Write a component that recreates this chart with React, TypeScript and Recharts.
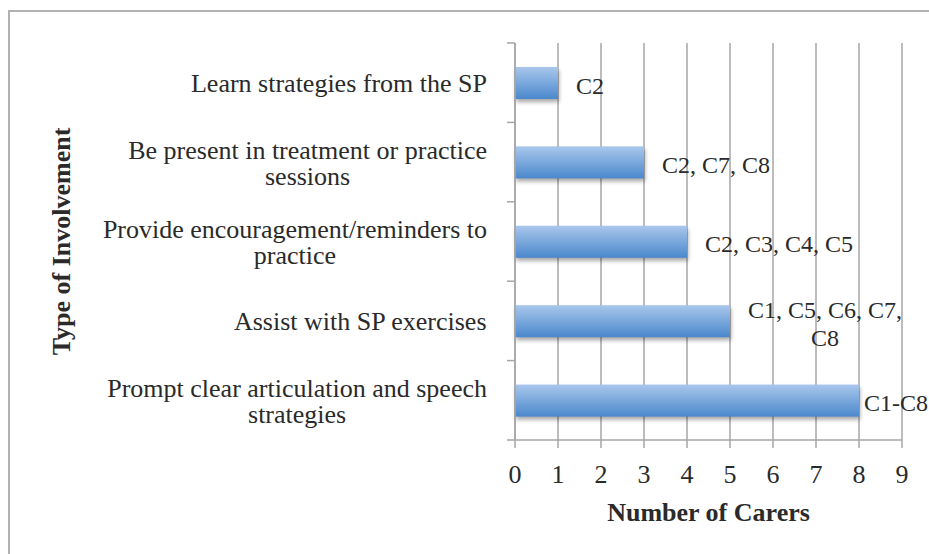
import React from 'react';
import { BarChart, Bar, XAxis, YAxis, CartesianGrid, LabelList } from 'recharts';

// ---------- data ----------
const categories = [
  'Learn strategies from the SP',
  'Be present in treatment or practice\nsessions',
  'Provide encouragement/reminders to\npractice',
  'Assist with SP exercises',
  'Prompt clear articulation and speech\nstrategies',
];
const carerCounts = [1, 3, 4, 5, 8];
const carerLabels = ['C2', 'C2, C7, C8', 'C2, C3, C4, C5', 'C1, C5, C6, C7,\nC8', 'C1-C8'];
const xTicks = [0, 1, 2, 3, 4, 5, 6, 7, 8, 9];
const xAxisTitle = 'Number of Carers';
const yAxisTitle = 'Type of Involvement';

const data = categories.map((c, i) => ({ category: c, carers: carerCounts[i], label: carerLabels[i] }));

// ---------- style ----------
const W = 929;
const H = 554;
const FONT = '"Liberation Serif", "Times New Roman", serif';
const TEXT = '#2a2a2a';
const GRID = '#a6a6a6';
const CAT_FS = 26;
const LBL_FS = 24;

let ctx: CanvasRenderingContext2D | null = null;
function measure(text: string, font: string): number {
  if (!ctx) ctx = document.createElement('canvas').getContext('2d');
  if (!ctx) return text.length * 10;
  ctx.font = font;
  return ctx.measureText(text).width;
}

const CategoryTick = (props: any) => {
  const { x, y, payload, index } = props;
  const half = payload?.offset ?? 0;
  const lines = String(payload.value).split('\n');
  const font = `${CAT_FS}px ${FONT}`;
  const blockW = Math.max(...lines.map((l) => measure(l, font)));
  const right = x - 28;
  const cx = right - blockW / 2;
  const n = lines.length;
  return (
    <g>
      <line x1={x - 8} x2={x} y1={y - half} y2={y - half} stroke={GRID} strokeWidth={1.5} />
      {index === categories.length - 1 && (
        <line x1={x - 8} x2={x} y1={y + half} y2={y + half} stroke={GRID} strokeWidth={1.5} />
      )}
      <text textAnchor="middle" fontFamily={FONT} fontSize={CAT_FS} fill={TEXT}>
        {lines.map((l, i) => (
          <tspan key={i} x={cx} y={y + 9.5 + (i - (n - 1) / 2) * 26}>
            {l}
          </tspan>
        ))}
      </text>
    </g>
  );
};

const renderCarerLabel = (p: any) => {
  const vb = p.viewBox ?? p;
  const x = p.x ?? vb.x;
  const y = p.y ?? vb.y;
  const width = p.width ?? vb.width;
  const height = p.height ?? vb.height;
  const lines = String(p.value).split('\n');
  const font = `${LBL_FS}px ${FONT}`;
  const blockW = Math.max(...lines.map((l) => measure(l, font)));
  let start = x + width + 18;
  if (start + blockW > W - 1) start = W - 1 - blockW;
  const cx = start + blockW / 2;
  const cy = y + height / 2;
  const n = lines.length;
  return (
    <text textAnchor="middle" fontFamily={FONT} fontSize={LBL_FS} fill={TEXT}>
      {lines.map((l, i) => (
        <tspan key={i} x={cx} y={cy + 10.5 + (i - (n - 1) / 2) * 28}>
          {l}
        </tspan>
      ))}
    </text>
  );
};

const BarShape = (p: any) => {
  const { x, y, width, height } = p;
  if (!width || width <= 0) return null;
  return (
    <g>
      <rect x={x} y={y} width={width} height={height} fill="#000" opacity={0.35} filter="url(#barShadow)" />
      <rect x={x} y={y} width={width} height={height} fill="url(#barGrad)" />
    </g>
  );
};

const YTitle = (p: any) => {
  const vb = p.viewBox;
  const tx = vb.x + 70;
  const ty = vb.y + vb.height / 2;
  return (
    <text
      x={tx}
      y={ty}
      transform={`rotate(-90, ${tx}, ${ty})`}
      textAnchor="middle"
      fontFamily={FONT}
      fontSize={26}
      fontWeight={700}
      fill={TEXT}
    >
      {yAxisTitle}
    </text>
  );
};

const XTitle = (p: any) => {
  const vb = p.viewBox;
  return (
    <text
      x={vb.x + vb.width / 2}
      y={vb.y + 81}
      textAnchor="middle"
      fontFamily={FONT}
      fontSize={26}
      fontWeight={700}
      fill={TEXT}
    >
      {xAxisTitle}
    </text>
  );
};

export default function App() {
  return (
    <div style={{ position: 'absolute', left: 0, top: 0, width: W, height: H, background: '#fff', overflow: 'hidden' }}>
      <div
        style={{
          position: 'absolute',
          left: 8,
          top: 10,
          width: W,
          height: H,
          borderLeft: '2px solid #b2b2b2',
          borderTop: '2px solid #b2b2b2',
        }}
      />
      <div style={{ position: 'absolute', left: 0, top: 0 }}>
        <BarChart
          width={W}
          height={H}
          data={data}
          layout="vertical"
          margin={{ top: 43, right: 27, bottom: 0, left: 0 }}
        >
          <defs>
            <linearGradient id="barGrad" x1="0" y1="0" x2="0" y2="1">
              <stop offset="0%" stopColor="#a9c7ec" />
              <stop offset="100%" stopColor="#4a88cc" />
            </linearGradient>
            <filter id="barShadow" x="-10%" y="-30%" width="120%" height="180%">
              <feOffset dx="1" dy="3" />
              <feGaussianBlur stdDeviation="2" />
            </filter>
          </defs>
          <CartesianGrid horizontal={false} vertical={true} stroke={GRID} strokeWidth={1.5} />
          <XAxis
            type="number"
            domain={[0, 9]}
            ticks={xTicks}
            interval={0}
            height={114}
            tickSize={8}
            tickMargin={17}
            axisLine={{ stroke: GRID, strokeWidth: 1.5 }}
            tickLine={{ stroke: GRID, strokeWidth: 1.5 }}
            tick={{ fontFamily: FONT, fontSize: 26, fill: TEXT }}
            label={XTitle}
          />
          <YAxis
            type="category"
            dataKey="category"
            width={515}
            interval={0}
            tickSize={0}
            tickMargin={0}
            tickLine={false}
            axisLine={{ stroke: GRID, strokeWidth: 1.5 }}
            tick={<CategoryTick />}
            label={YTitle}
          />
          <Bar dataKey="carers" barSize={32} isAnimationActive={false} shape={<BarShape />}>
            <LabelList dataKey="label" content={renderCarerLabel} />
          </Bar>
        </BarChart>
      </div>
    </div>
  );
}
